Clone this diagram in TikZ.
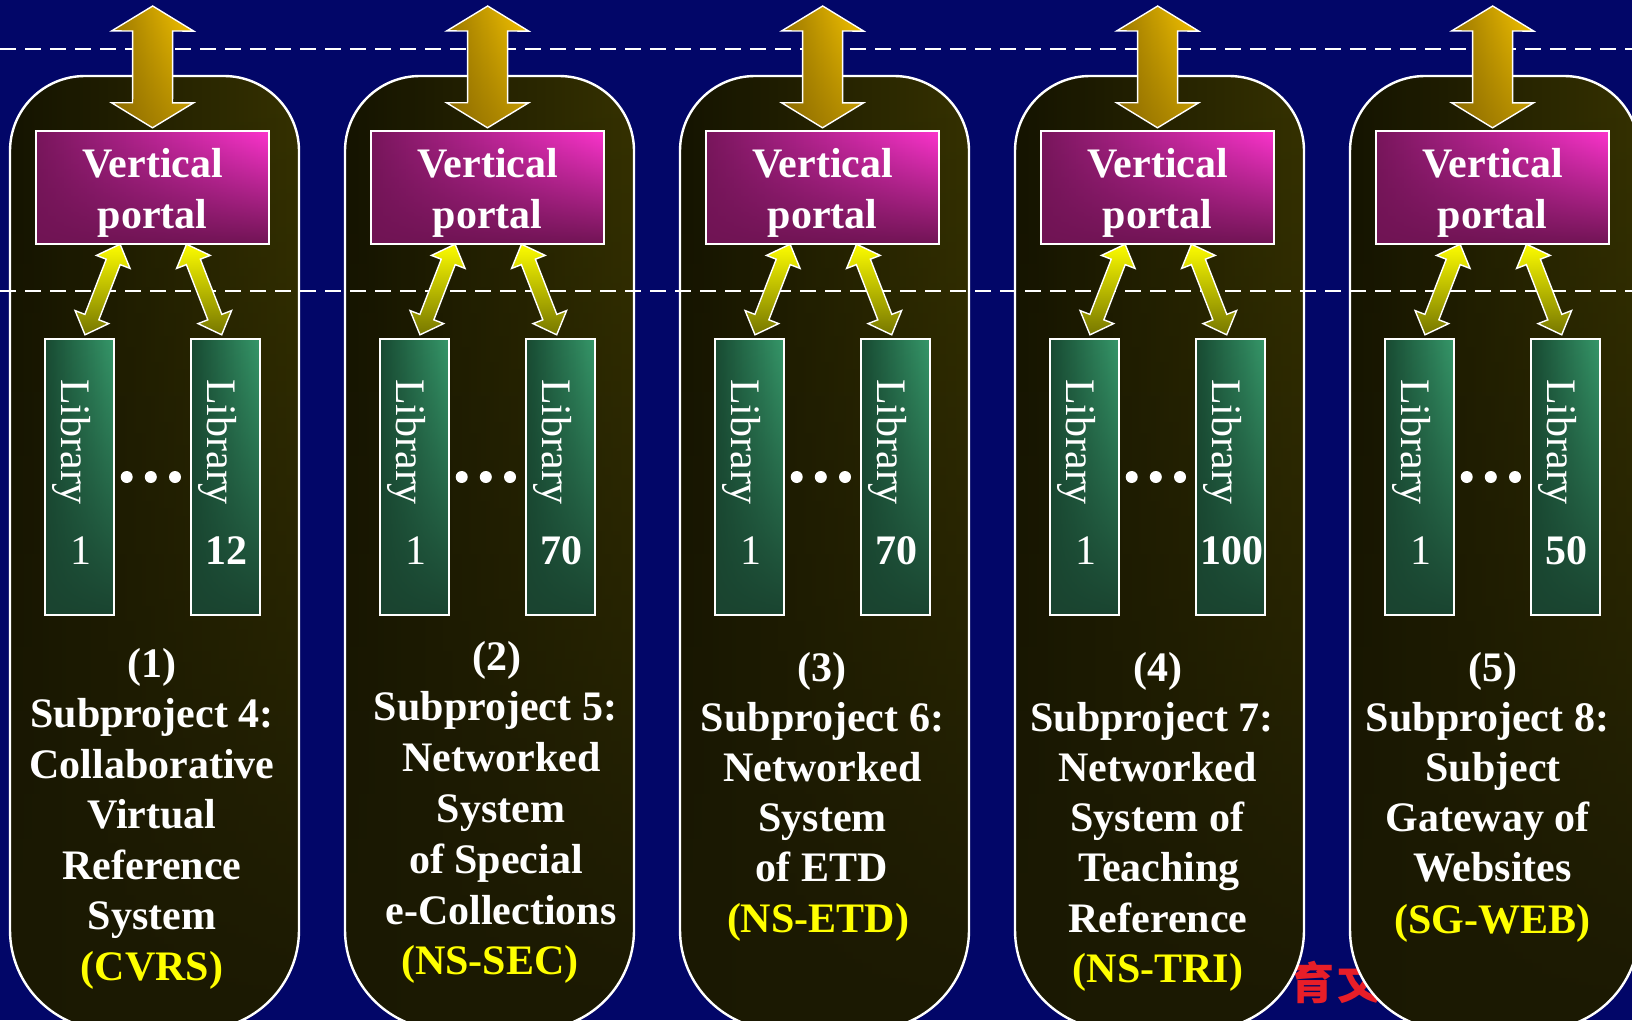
\documentclass[tikz,border=0pt]{standalone}
\usepackage{fontspec}
\setmainfont{Liberation Serif}
\newfontfamily\cjk{Noto Sans CJK SC}
\usetikzlibrary{calc,fadings}
\definecolor{bgblue}{RGB}{2,6,104}
\definecolor{capL}{RGB}{20,19,0}
\definecolor{capR}{RGB}{54,50,0}
\definecolor{capD}{RGB}{27,25,3}
\definecolor{porL}{RGB}{120,22,92}
\definecolor{porR}{RGB}{252,52,205}
\definecolor{porD}{RGB}{112,20,84}
\definecolor{goldL}{RGB}{158,122,0}
\definecolor{goldR}{RGB}{250,200,0}
\definecolor{goldD}{RGB}{120,90,0}
\definecolor{yelT}{RGB}{252,252,0}
\definecolor{yelB}{RGB}{118,118,0}
\definecolor{libL}{RGB}{24,74,50}
\definecolor{libR}{RGB}{54,152,106}
\definecolor{libD}{RGB}{26,68,48}
\definecolor{wmred}{RGB}{232,30,40}
\definecolor{acro}{RGB}{255,255,0}
\tikzfading[name=fadebottom, top color=transparent!100, bottom color=transparent!0]
\newcommand{\dblarr}[6]{%
  \coordinate (da1) at ($(#1)!#3!(#2)$);
  \coordinate (da2) at ($(#2)!#3!(#1)$);
  \path[#6] (#1) -- ($(da1)!#4!90:(#2)$) -- ($(da1)!#5!90:(#2)$)
    -- ($(da2)!#5!-90:(#1)$) -- ($(da2)!#4!-90:(#1)$) -- (#2)
    -- ($(da2)!#4!90:(#1)$) -- ($(da2)!#5!90:(#1)$)
    -- ($(da1)!#5!-90:(#2)$) -- ($(da1)!#4!-90:(#2)$) -- cycle;
}
\tikzset{
  capsule/.style={left color=capL, right color=capR,
    postaction={fill=capD, path fading=fadebottom},
    postaction={draw=white, line width=2.4pt}},
  dashline/.style={draw=white, line width=1.8pt, dash pattern=on 16pt off 9pt},
  portalbox/.style={rectangle, minimum width=233pt, minimum height=113pt, inner sep=0pt,
    left color=porL, right color=porR,
    postaction={fill=porD, path fading=fadebottom},
    postaction={draw=white, line width=1.6pt}},
  libbox/.style={rectangle, minimum width=69pt, minimum height=276pt, inner sep=0pt,
    left color=libL, right color=libR,
    postaction={fill=libD, path fading=fadebottom},
    postaction={draw=white, line width=1.6pt}},
  goldarrow/.style={left color=goldL, right color=goldR,
    postaction={fill=goldD, fill opacity=0.5, path fading=fadebottom},
    postaction={draw=white, line width=1.4pt, line join=miter}},
  yelarrow/.style={top color=yelT, bottom color=yelB,
    postaction={draw=white, line width=1.4pt, line join=miter}},
  btext/.style={text=white, font=\fontsize{42pt}{50pt}\selectfont\bfseries, inner sep=0pt, anchor=base},
  atext/.style={btext, text=acro},
  libtext/.style={text=white, font=\fontsize{42pt}{50pt}\selectfont, inner sep=0pt, anchor=base, rotate=-90},
  numreg/.style={text=white, font=\fontsize{42pt}{50pt}\selectfont, inner sep=0pt, anchor=base},
  wm/.style={text=wmred, font=\cjk\bfseries\fontsize{44pt}{50pt}\selectfont, inner sep=0pt}
}
\begin{document}
\begin{tikzpicture}[x=1pt,y=-1pt]
\useasboundingbox (0,0) rectangle (1632,1020);
\fill[bgblue] (0,0) rectangle (1632,1020);
\node[wm] (wm) at (1336,982) {育\hspace{4pt}文};
\begin{scope}
\clip (0,0) rectangle (1632,1020);
\foreach \L in {10,345,680,1015,1350} {
  \path[capsule] (\L,930) -- (\L,151) arc(180:270:75) -- (\L+214,76) arc(270:360:75)
    -- (\L+289,930) arc(0:90:100) -- (\L+100,1030) arc(90:180:100) -- cycle;
}
\end{scope}
\draw[dashline] (0,49) -- (1632,49);
\draw[dashline] (0,291) -- (1632,291);
\foreach \L/\n [count=\i] in {10/12,345/70,680/70,1015/100,1350/50} {
  \node[portalbox] (portal\i) at (\L+142.5,187.5) {};
  \coordinate (top\i) at (\L+142.7,6);
  \coordinate (gtip\i) at ($(portal\i.north)+(0,-3)$);
  \dblarr{top\i}{gtip\i}{25pt}{41pt}{20pt}{goldarrow}
  \node[libbox] (libA\i) at (\L+69.5,477) {};
  \node[libbox] (libB\i) at (\L+215.5,477) {};
  \coordinate (ya\i) at ($(portal\i.south west)+(84.3,0)$);
  \coordinate (yb\i) at ($(libA\i.north)+(5.5,-4)$);
  \coordinate (yc\i) at ($(portal\i.south west)+(150.7,0)$);
  \coordinate (yd\i) at ($(libB\i.north)+(-3.8,-4)$);
  \dblarr{ya\i}{yb\i}{19pt}{18pt}{7.5pt}{yelarrow}
  \dblarr{yc\i}{yd\i}{19pt}{18pt}{7.5pt}{yelarrow}
  \node[btext] (vt\i) at (\L+142.7,177) {Vertical};
  \node[btext] (vp\i) at (\L+142.7,228) {portal};
  \node[libtext] (lta\i) at (\L+51.5,442) {Library};
  \node[libtext] (ltb\i) at (\L+197.5,442) {Library};
  \node[numreg] (na\i) at (\L+70.5,564) {1};
  \node[btext] (nb\i) at (\L+216.5,564) {\n};
  \foreach \d in {116.7,140.8,165} { \fill[white] (\L+\d,477) circle (6); }
}
% capsule 1
\foreach \tx [count=\k] in {{(1)},{Subproject 4:},{Collaborative},{Virtual},{Reference},{System}}
  \node[btext] (tA\k) at (152,{677+50.5*(\k-1)}) {\tx};
\node[atext] (tA7) at (152,980) {(CVRS)};
% capsule 2
\foreach \xx/\tx [count=\k] in {497/{(2)},495.5/{Subproject 5:},501.5/{Networked},501/{System},496/{of Special},501/{e-Collections}}
  \node[btext] (tB\k) at (\xx,{670+50.8*(\k-1)}) {\tx};
\node[atext] (tB7) at (490,974.8) {(NS-SEC)};
% capsule 3
\foreach \xx/\tx [count=\k] in {822/{(3)},822.5/{Subproject 6:},822.5/{Networked},822.5/{System},821.7/{of ETD}}
  \node[btext] (tC\k) at (\xx,{681+50.2*(\k-1)}) {\tx};
\node[atext] (tC6) at (818,932) {(NS-ETD)};
% capsule 4
\foreach \xx/\tx [count=\k] in {1157.5/{(4)},1152/{Subproject 7:},1157.5/{Networked},1157.5/{System of},1159/{Teaching},1158/{Reference}}
  \node[btext] (tD\k) at (\xx,{681+50.2*(\k-1)}) {\tx};
\node[atext] (tD7) at (1158,982) {(NS-TRI)};
% capsule 5
\foreach \xx/\tx [count=\k] in {1492.5/{(5)},1487.5/{Subproject 8:},1493/{Subject},1487.5/{Gateway of},1492.5/{Websites}}
  \node[btext] (tE\k) at (\xx,{681+50.2*(\k-1)}) {\tx};
\node[atext] (tE6) at (1492.5,933) {(SG-WEB)};
\end{tikzpicture}
\end{document}
